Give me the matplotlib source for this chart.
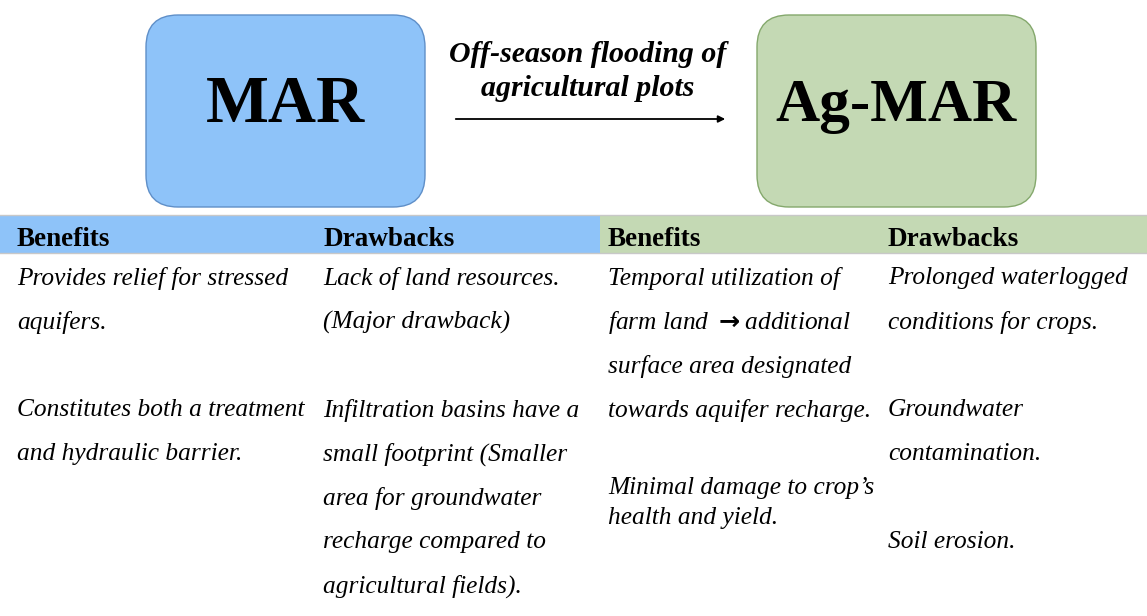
import matplotlib.pyplot as plt
from matplotlib.patches import FancyBboxPatch, Rectangle

# box titles and arrow caption
box_titles = ['MAR', 'Ag-MAR']
arrow_caption = ['Off-season flooding of', 'agricultural plots']

# table header and column contents (one list of lines per column)
headers = ['Benefits', 'Drawbacks', 'Benefits', 'Drawbacks']
mar_benefits = ['Provides relief for stressed', 'aquifers.', '',
                'Constitutes both a treatment', 'and hydraulic barrier.']
mar_drawbacks = ['Lack of land resources.', '(Major drawback)', '',
                 'Infiltration basins have a', 'small footprint (Smaller',
                 'area for groundwater', 'recharge compared to',
                 'agricultural fields).']
ag_benefits = ['Temporal utilization of', r'farm land $\mathbf{\rightarrow}$additional',
               'surface area designated', 'towards aquifer recharge.']
ag_benefits_2 = ['Minimal damage to crop\u2019s', 'health and yield.']
ag_drawbacks = ['Prolonged waterlogged', 'conditions for crops.', '',
                'Groundwater', 'contamination.', '', 'Soil erosion.']

blue = '#8ec3f9'
green = '#c4d9b4'

fig = plt.figure(figsize=(11.47, 6.16), dpi=100)
ax = fig.add_axes([0, 0, 1, 1])
ax.set_xlim(0, 1147)
ax.set_ylim(616, 0)
ax.axis('off')

font = ['Liberation Serif', 'DejaVu Serif']
pad = 32

# top boxes
for x0, title, size, fc, ec in [(146, box_titles[0], 48, blue, '#5f8fc8'),
                                (757, box_titles[1], 44, green, '#84a86c')]:
    ax.add_patch(FancyBboxPatch((x0 + pad, 15 + pad), 279 - 2 * pad, 192 - 2 * pad,
                                boxstyle='round,pad=%d' % pad, fc=fc, ec=ec, lw=1))
    ax.text(x0 + 139.5, 106, title, ha='center', va='center',
            fontsize=size, fontweight='bold', family=font)

# arrow and caption
ax.annotate('', xy=(728, 119), xytext=(453, 119),
            arrowprops=dict(arrowstyle='-|>', color='black', lw=1.3,
                            mutation_scale=10))
for i, line in enumerate(arrow_caption):
    ax.text(588, 55 + 34 * i, line, ha='center', va='center',
            fontsize=21.5, fontweight='bold', style='italic', family=font)

# header band
ax.add_patch(Rectangle((0, 215), 600, 38, fc=blue, ec='none'))
ax.add_patch(Rectangle((600, 215), 547, 38, fc=green, ec='none'))
ax.plot([0, 1147], [215, 215], color='#c8c8c8', lw=1)
ax.plot([0, 1147], [253, 253], color='#c8c8c8', lw=1)

col_x = [17, 323, 608, 888]
for x, h in zip(col_x, headers):
    ax.text(x, 240, h, ha='left', va='center', fontsize=19.5,
            fontweight='bold', family=font)

row_y0 = 278
row_step = 44
for x, lines in zip(col_x, [mar_benefits, mar_drawbacks, ag_benefits, ag_drawbacks]):
    for i, line in enumerate(lines):
        ax.text(x, row_y0 + row_step * i, line, ha='left', va='center',
                fontsize=18.3, style='italic', family=font)

for i, line in enumerate(ag_benefits_2):
    ax.text(col_x[2], 488 + 30 * i, line, ha='left', va='center',
            fontsize=18.3, style='italic', family=font)

fig.savefig('out.png', dpi=100)
